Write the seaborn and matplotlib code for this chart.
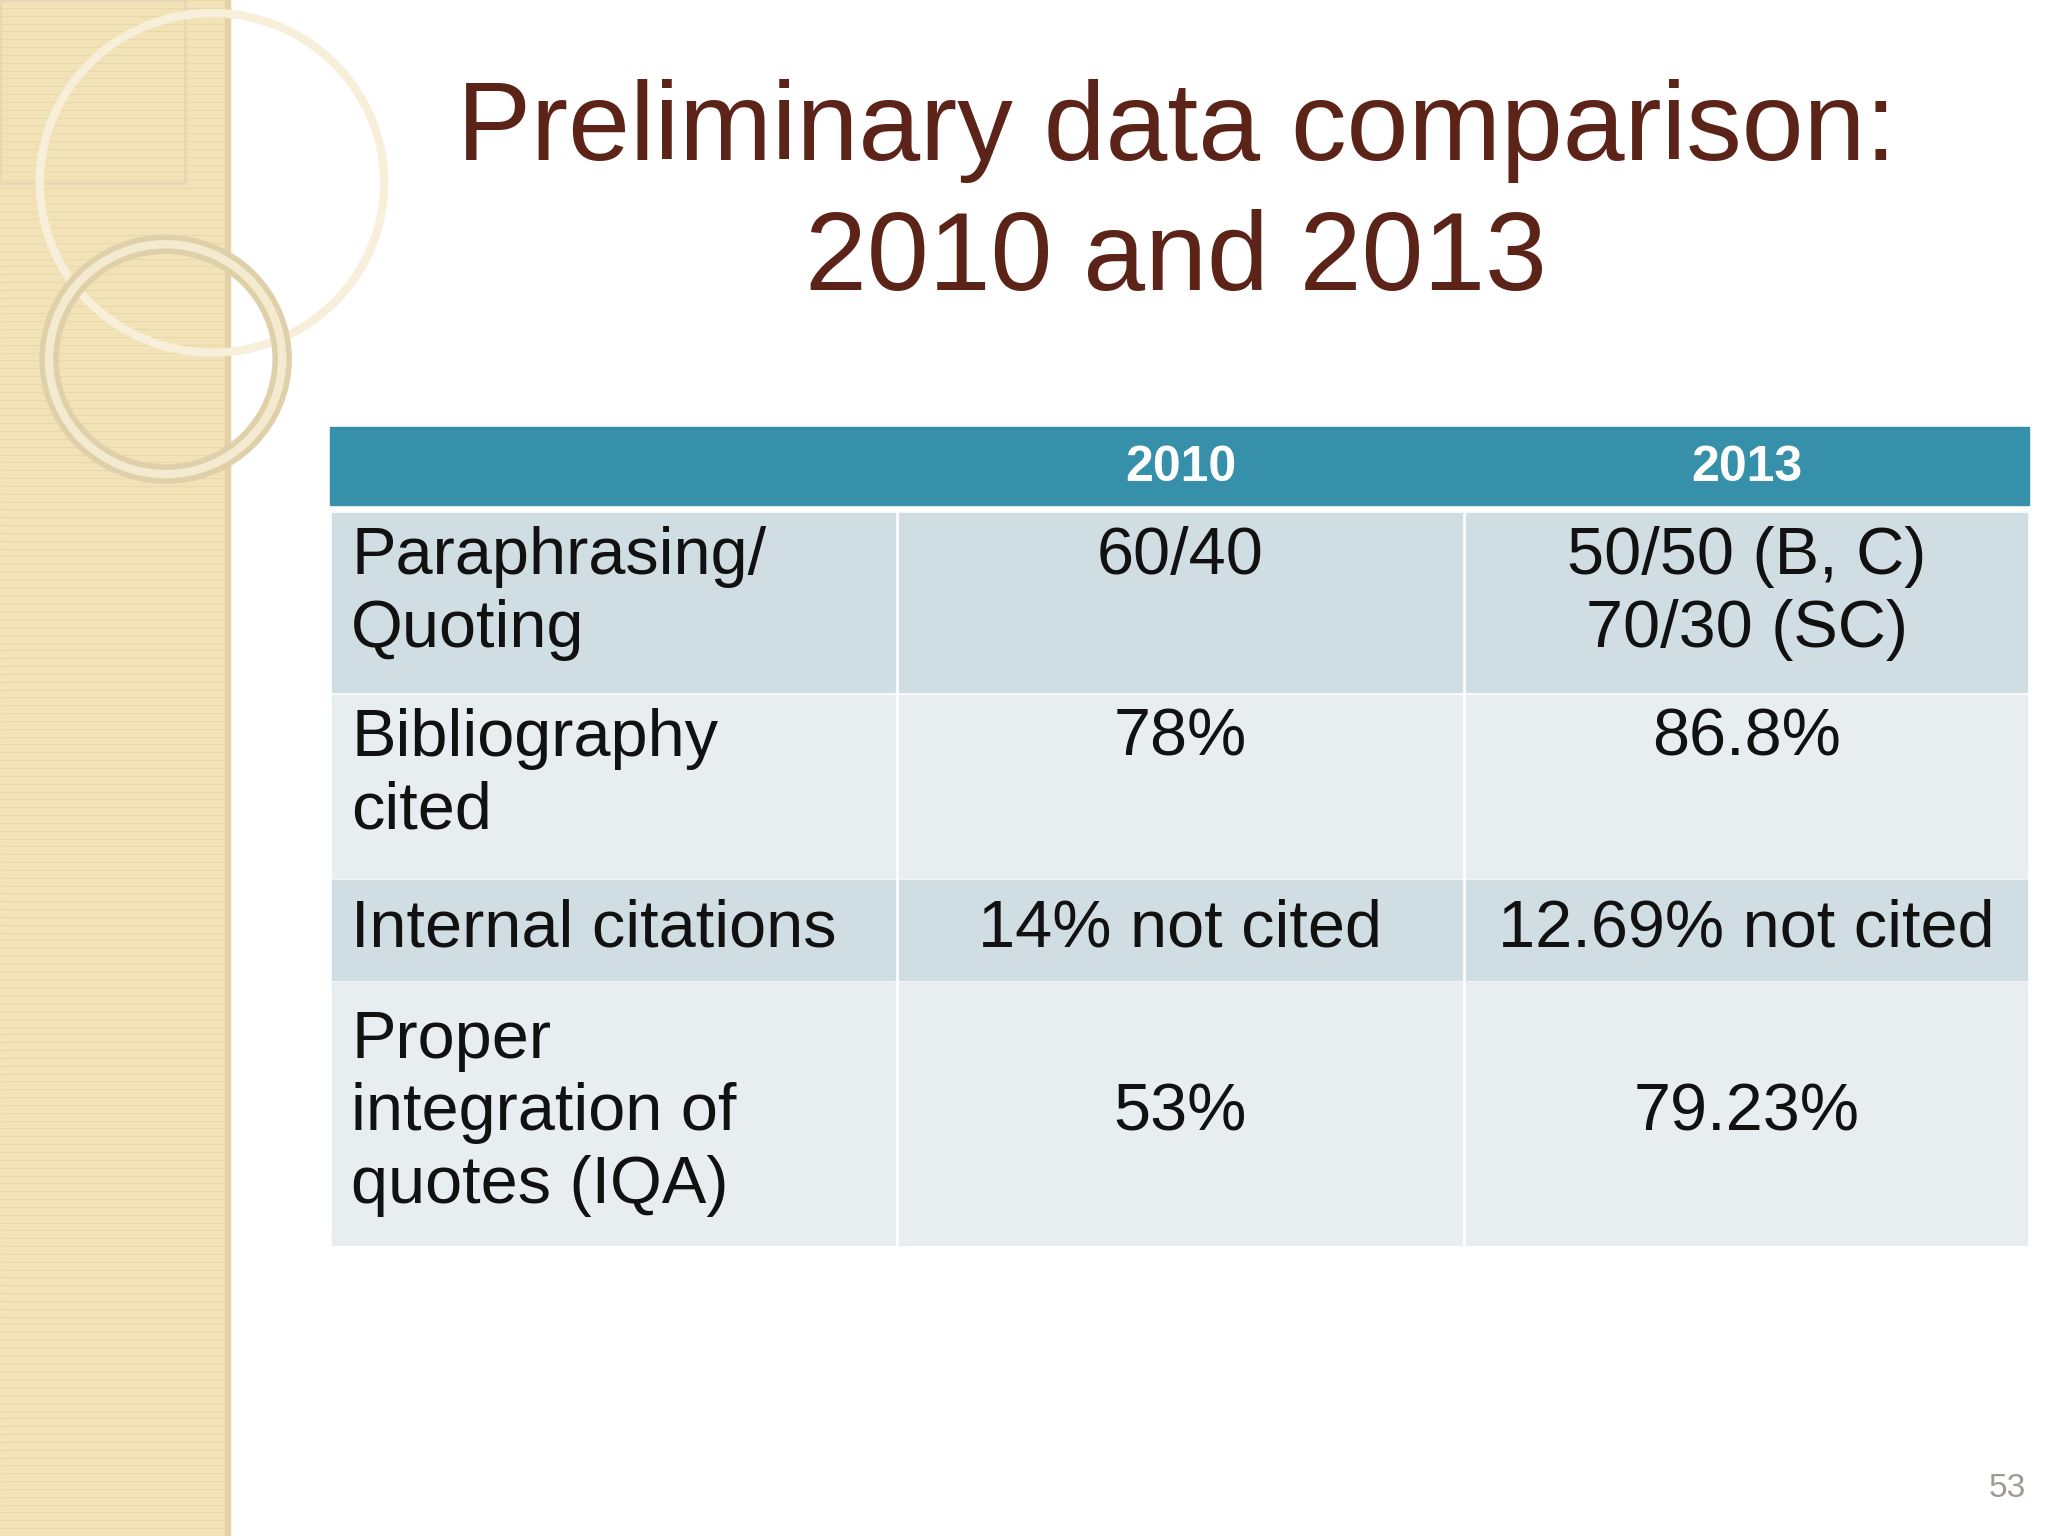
import matplotlib
matplotlib.use("Agg")
import matplotlib.pyplot as plt
import seaborn as sns
from matplotlib.patches import Rectangle, Circle

sns.set_theme(style="white")
plt.rcParams['font.family'] = ['Liberation Sans', 'DejaVu Sans']

title_lines = ["Preliminary data comparison:", "2010 and 2013"]
col_headers = ["", "2010", "2013"]
row_labels = ["Paraphrasing/\nQuoting", "Bibliography\ncited", "Internal citations",
              "Proper\nintegration of\nquotes (IQA)"]
vals_2010 = ["60/40", "78%", "14% not cited", "53%"]
vals_2013 = ["50/50 (B, C)\n70/30 (SC)", "86.8%", "12.69% not cited", "79.23%"]
page_no = "53"

W, H = 1546, 1176
fig = plt.figure(figsize=(20.48, 15.36), dpi=100)
ax = fig.add_axes([0, 0, 1, 1])
ax.set_xlim(0, W); ax.set_ylim(H, 0); ax.axis('off')
fig.patch.set_facecolor('white')

# left decorative strip
ax.add_patch(Rectangle((0, 0), 173, H, color='#f2e2b8', zorder=0))
for yy in range(0, H, 6):
    ax.plot([0, 173], [yy, yy], color='#e9d6a4', lw=0.6, zorder=0)
ax.add_patch(Rectangle((170, 0), 4, H, color='#e3d2a6', zorder=1))
ax.add_patch(Rectangle((0, 0), 140, 140, fill=False, ec='#e6d7b6', lw=2, zorder=1))
ax.add_patch(Circle((160, 140), 130, fill=False, ec='#f7efd9', lw=6, zorder=1))
ax.add_patch(Circle((125, 275), 88, fill=False, ec='#e0d0aa', lw=14, zorder=1))
ax.add_patch(Circle((125, 275), 88, fill=False, ec='#f4ead0', lw=6, zorder=1))

# title
for i, t in enumerate(title_lines):
    ax.text(888, 100 + i * 100, t, ha='center', va='center', fontsize=80,
            color='#5c2418', zorder=3)

# table
xs = [249, 677, 1105, 1532]
ax.add_patch(Rectangle((xs[0], 327), xs[-1] - xs[0], 60, color='#3690aa', zorder=2))
for j in range(1, 3):
    ax.text((xs[j] + xs[j + 1]) / 2, 358, col_headers[j], ha='center', va='center',
            fontsize=36, fontweight='bold', color='white', zorder=3)
rows = [(393, 530), (532, 672), (674, 750), (752, 953)]
colors = ['#d0dde3', '#e8edf0', '#d0dde3', '#e8edf0']
FS, LS = 48, 1.22
for r, ((y0, y1), c) in enumerate(zip(rows, colors)):
    for j in range(3):
        ax.add_patch(Rectangle((xs[j] + 1.5, y0), xs[j + 1] - xs[j] - 3, y1 - y0,
                               color=c, zorder=2))
    if r >= 2:
        yv, va = (y0 + y1) / 2, 'center'
    else:
        yv, va = y0 + 10, 'top'
    ax.text(265, yv, row_labels[r], ha='left', va=va,
            fontsize=FS, color='#111111', linespacing=LS, zorder=3)
    ax.text((xs[1] + xs[2]) / 2, yv, vals_2010[r], ha='center', va=va,
            fontsize=FS, color='#111111', linespacing=LS, zorder=3)
    ax.text((xs[2] + xs[3]) / 2, yv, vals_2013[r], ha='center', va=va,
            fontsize=FS, color='#111111', linespacing=LS, zorder=3)

ax.text(1515, 1140, page_no, ha='center', va='center', fontsize=24, color='#a09a90')

fig.savefig("out.png", dpi=100)
